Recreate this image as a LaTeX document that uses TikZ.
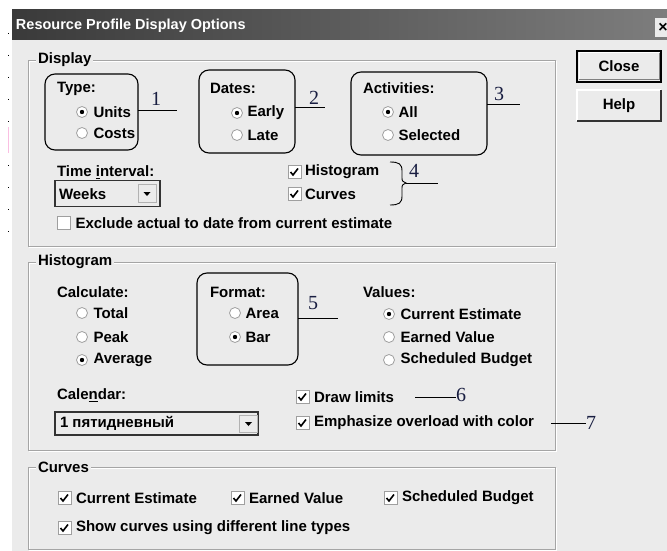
\documentclass[tikz,border=0pt]{standalone}
\usepackage{fontspec}
\setmainfont{Liberation Sans}
\newfontfamily\numfont{Liberation Serif}
\usetikzlibrary{positioning}
\definecolor{dlgbg}{RGB}{235,235,235}
\definecolor{titledark}{RGB}{58,58,58}
\definecolor{titlelight}{RGB}{125,125,125}
\definecolor{framegray}{RGB}{165,165,165}
\definecolor{numink}{RGB}{25,30,65}

\begin{document}
\begin{tikzpicture}[x=1pt,y=-1pt,
    every node/.style={inner sep=0pt,outer sep=0pt},
    lbl/.style={anchor=west,font=\fontsize{15}{17}\selectfont\bfseries},
    grouplbl/.style={lbl,fill=dlgbg,inner xsep=2pt},
    callbox/.style={draw,rounded corners=10pt,line width=1.1pt},
    callnum/.style={font=\numfont\fontsize{20}{22}\selectfont,text=numink},
    callline/.style={line width=0.9pt},
    radio/.style={circle,draw=gray!75,fill=white,minimum size=11pt,line width=0.8pt},
    radioon/.style={radio,path picture={\fill[black] (path picture bounding box.center) circle[radius=2.2pt];}},
    chkoff/.style={rectangle,draw=gray!75,fill=white,minimum size=13pt,line width=0.8pt},
    chk/.style={chkoff,path picture={\draw[black,line width=1.6pt] ([xshift=-4pt]path picture bounding box.center) -- ++(2.5pt,-3pt) -- ++(5pt,6.5pt);}},
    combo/.style={draw=black!80,line width=1.3pt,fill=dlgbg},
    dropbtn/.style={draw=gray!60,fill=dlgbg,minimum width=18pt,minimum height=18pt,
      path picture={\fill[black] ([xshift=-3.5pt,yshift=1.5pt]path picture bounding box.center) -- ++(7pt,0) -- ++(-3.5pt,-4pt) -- cycle;}},
    pushbtn/.style={fill=dlgbg,minimum width=84pt,minimum height=31pt,font=\fontsize{15}{17}\selectfont\bfseries}]

  \useasboundingbox (0,0) rectangle (667,551);
  \fill[white] (0,0) rectangle (667,551);
  \draw[black,dash pattern=on 1pt off 21pt,line width=1pt] (8,33) -- (8,245);
  \draw[magenta!25,line width=1pt] (8,127) -- (8,153);

  % window and title bar
  \fill[dlgbg] (12,10) rectangle (667,551);
  \shade[left color=titledark,right color=titlelight] (12,10) rectangle (667,40);
  \node[anchor=west,text=white,font=\fontsize{14.5}{16}\selectfont\bfseries] (title) at (16,26) {Resource Profile Display Options};
  \node[fill=dlgbg,minimum width=17pt,minimum height=19pt,font=\fontsize{16}{16}\selectfont\bfseries] (xbtn) at (663,27.5) {×};

  % buttons
  \node[pushbtn,draw=black,line width=1.6pt] (closebtn) at (619,66.5) {Close};
  \draw[white,line width=1pt] ([shift={(2pt,2pt)}]closebtn.south west) |- ([shift={(-2pt,-2pt)}]closebtn.north east);
  \draw[gray,line width=1pt] ([shift={(2pt,2pt)}]closebtn.south west) -| ([shift={(-2pt,-2pt)}]closebtn.north east);
  \node[pushbtn] (helpbtn) at (619,105.5) {Help};
  \draw[white,line width=1.2pt] (helpbtn.south west) |- (helpbtn.north east);
  \draw[black!80,line width=1.2pt] (helpbtn.south west) -| (helpbtn.north east);

  % group frames
  \draw[white] (29,61) rectangle (556,247);
  \draw[framegray] (28,60) rectangle (555,246);
  \draw[white] (29,263) rectangle (556,451);
  \draw[framegray] (28,262) rectangle (555,450);
  \draw[white] (29,468) rectangle (556,550);
  \draw[framegray] (28,467) rectangle (555,549);

  % Display
  \node[grouplbl] (displbl) at (36,60) {Display};
  \node[callbox,minimum width=93pt,minimum height=76pt] (typebox) at (91.5,112) {};
  \node[lbl] (typelbl) at (57,89) {Type:};
  \node[radioon] (unitsbtn) at (82,112) {};
  \node[lbl,right=6pt of unitsbtn] (unitslbl) {Units};
  \node[radio] (costsbtn) at (82,133) {};
  \node[lbl,right=6pt of costsbtn] (costslbl) {Costs};

  \node[callbox,minimum width=96pt,minimum height=83pt] (datesbox) at (247,111.5) {};
  \node[lbl] (dateslbl) at (210,88) {Dates:};
  \node[radioon] (earlybtn) at (237,113) {};
  \node[lbl,right=5pt of earlybtn] (earlylbl) {Early};
  \node[radio] (latebtn) at (237,135) {};
  \node[lbl,right=5pt of latebtn] (latelbl) {Late};

  \node[callbox,minimum width=136pt,minimum height=83pt] (actbox) at (419,113.5) {};
  \node[lbl] (actlbl) at (363,88) {Activities:};
  \node[radioon] (allbtn) at (388,112) {};
  \node[lbl,right=5pt of allbtn] (alllbl) {All};
  \node[radio] (selbtn) at (388,135) {};
  \node[lbl,right=5pt of selbtn] (sellbl) {Selected};

  \node[lbl] (intlbl) at (57,172) {Time \underline{i}nterval:};
  \node[combo,minimum width=105pt,minimum height=26pt] (weekscombo) at (107.5,193.5) {};
  \node[lbl] (weekstxt) at (59,194) {Weeks};
  \node[dropbtn] (weeksdrop) at (147,193.5) {};

  \node[chk] (histchk) at (294.5,172) {};
  \node[lbl,right=4pt of histchk] (histlbl) {Histogram};
  \node[chk] (curvchk) at (294.5,194) {};
  \node[lbl,right=4pt of curvchk] (curvlbl) {Curves};
  \node[chkoff] (exclchk) at (64,223) {};
  \node[lbl,right=5pt of exclchk] (excllbl) {Exclude actual to date from current estimate};

  % Histogram
  \node[grouplbl] (histgrp) at (36,262) {Histogram};
  \node[lbl] (calclbl) at (57,292) {Calculate:};
  \node[radio] (totalbtn) at (82,313) {};
  \node[lbl,right=6pt of totalbtn] (totallbl) {Total};
  \node[radio] (peakbtn) at (82,337) {};
  \node[lbl,right=6pt of peakbtn] (peaklbl) {Peak};
  \node[radioon] (avgbtn) at (82,360) {};
  \node[lbl,right=6pt of avgbtn] (avglbl) {Average};

  \node[callbox,minimum width=101pt,minimum height=92pt] (fmtbox) at (247.5,319) {};
  \node[lbl] (fmtlbl) at (210,292) {Format:};
  \node[radio] (areabtn) at (235,313) {};
  \node[lbl,right=5pt of areabtn] (arealbl) {Area};
  \node[radioon] (barbtn) at (235,337) {};
  \node[lbl,right=5pt of barbtn] (barlbl) {Bar};

  \node[lbl] (vallbl) at (363,292) {Values:};
  \node[radioon] (curbtn) at (389,314) {};
  \node[lbl,right=6pt of curbtn] (curlbl) {Current Estimate};
  \node[radio] (earnbtn) at (389,337) {};
  \node[lbl,right=6pt of earnbtn] (earnlbl) {Earned Value};
  \node[radio] (schedbtn) at (389,360) {};
  \node[lbl,right=6pt of schedbtn] (schedlbl) {Scheduled Budget};

  \node[lbl] (callbl) at (57,395) {Cale\underline{n}dar:};
  \node[combo,minimum width=203pt,minimum height=23pt] (calcombo) at (156.5,423.5) {};
  \node[lbl] (caltxt) at (60,423) {1 пятидневный};
  \node[dropbtn,minimum height=17pt] (caldrop) at (248.5,423.5) {};

  \node[chk] (limchk) at (302.5,397) {};
  \node[lbl,right=5pt of limchk] (limlbl) {Draw limits};
  \node[chk] (overchk) at (302.5,423) {};
  \node[lbl,right=5pt of overchk] (overlbl) {Emphasize overload with color};

  % Curves
  \node[grouplbl] (curvgrp) at (36,467) {Curves};
  \node[chk] (cechk) at (64.5,498) {};
  \node[lbl,right=5pt of cechk] (celbl) {Current Estimate};
  \node[chk] (evchk) at (237.5,498) {};
  \node[lbl,right=5pt of evchk] (evlbl) {Earned Value};
  \node[chk] (sbchk) at (390.5,498) {};
  \node[lbl,right=5pt of sbchk] (sblbl) {Scheduled Budget};
  \node[chk] (difchk) at (64.5,528) {};
  \node[lbl,right=5pt of difchk] (diflbl) {Show curves using different line types};

  % callouts
  \coordinate (n1end) at (177,110);
  \draw[callline] (typebox.east |- n1end) -- (n1end);
  \node[callnum,anchor=south] (num1) at (156,106) {1};
  \coordinate (n2end) at (325,107);
  \draw[callline] (datesbox.east |- n2end) -- (n2end);
  \node[callnum,anchor=south] (num2) at (314,105) {2};
  \coordinate (n3end) at (520,104);
  \draw[callline] (actbox.east |- n3end) -- (n3end);
  \node[callnum,anchor=south] (num3) at (499,101) {3};
  \coordinate (bracetip) at (406,183);
  \draw[line width=0.9pt] (390,162) .. controls (399,162) and (402,164) .. (402,171) -- (402,177)
    .. controls (402,181) .. (bracetip) .. controls (402,185) .. (402,189) -- (402,196)
    .. controls (402,203) and (399,205) .. (390,205);
  \coordinate (n4end) at (438,183);
  \draw[callline] (bracetip) -- (n4end);
  \node[callnum,anchor=south] (num4) at (414,177) {4};
  \coordinate (n5end) at (338,318);
  \draw[callline] (fmtbox.east |- n5end) -- (n5end);
  \node[callnum,anchor=south] (num5) at (313,310) {5};
  \node[callnum,anchor=west] (num6) at (456,395) {6};
  \coordinate (n6start) at (415,397);
  \draw[callline] (n6start) -- (n6start -| num6.west);
  \node[callnum,anchor=west] (num7) at (586,423) {7};
  \coordinate (n7start) at (551,423);
  \draw[callline] (n7start) -- (n7start -| num7.west);
\end{tikzpicture}
\end{document}
